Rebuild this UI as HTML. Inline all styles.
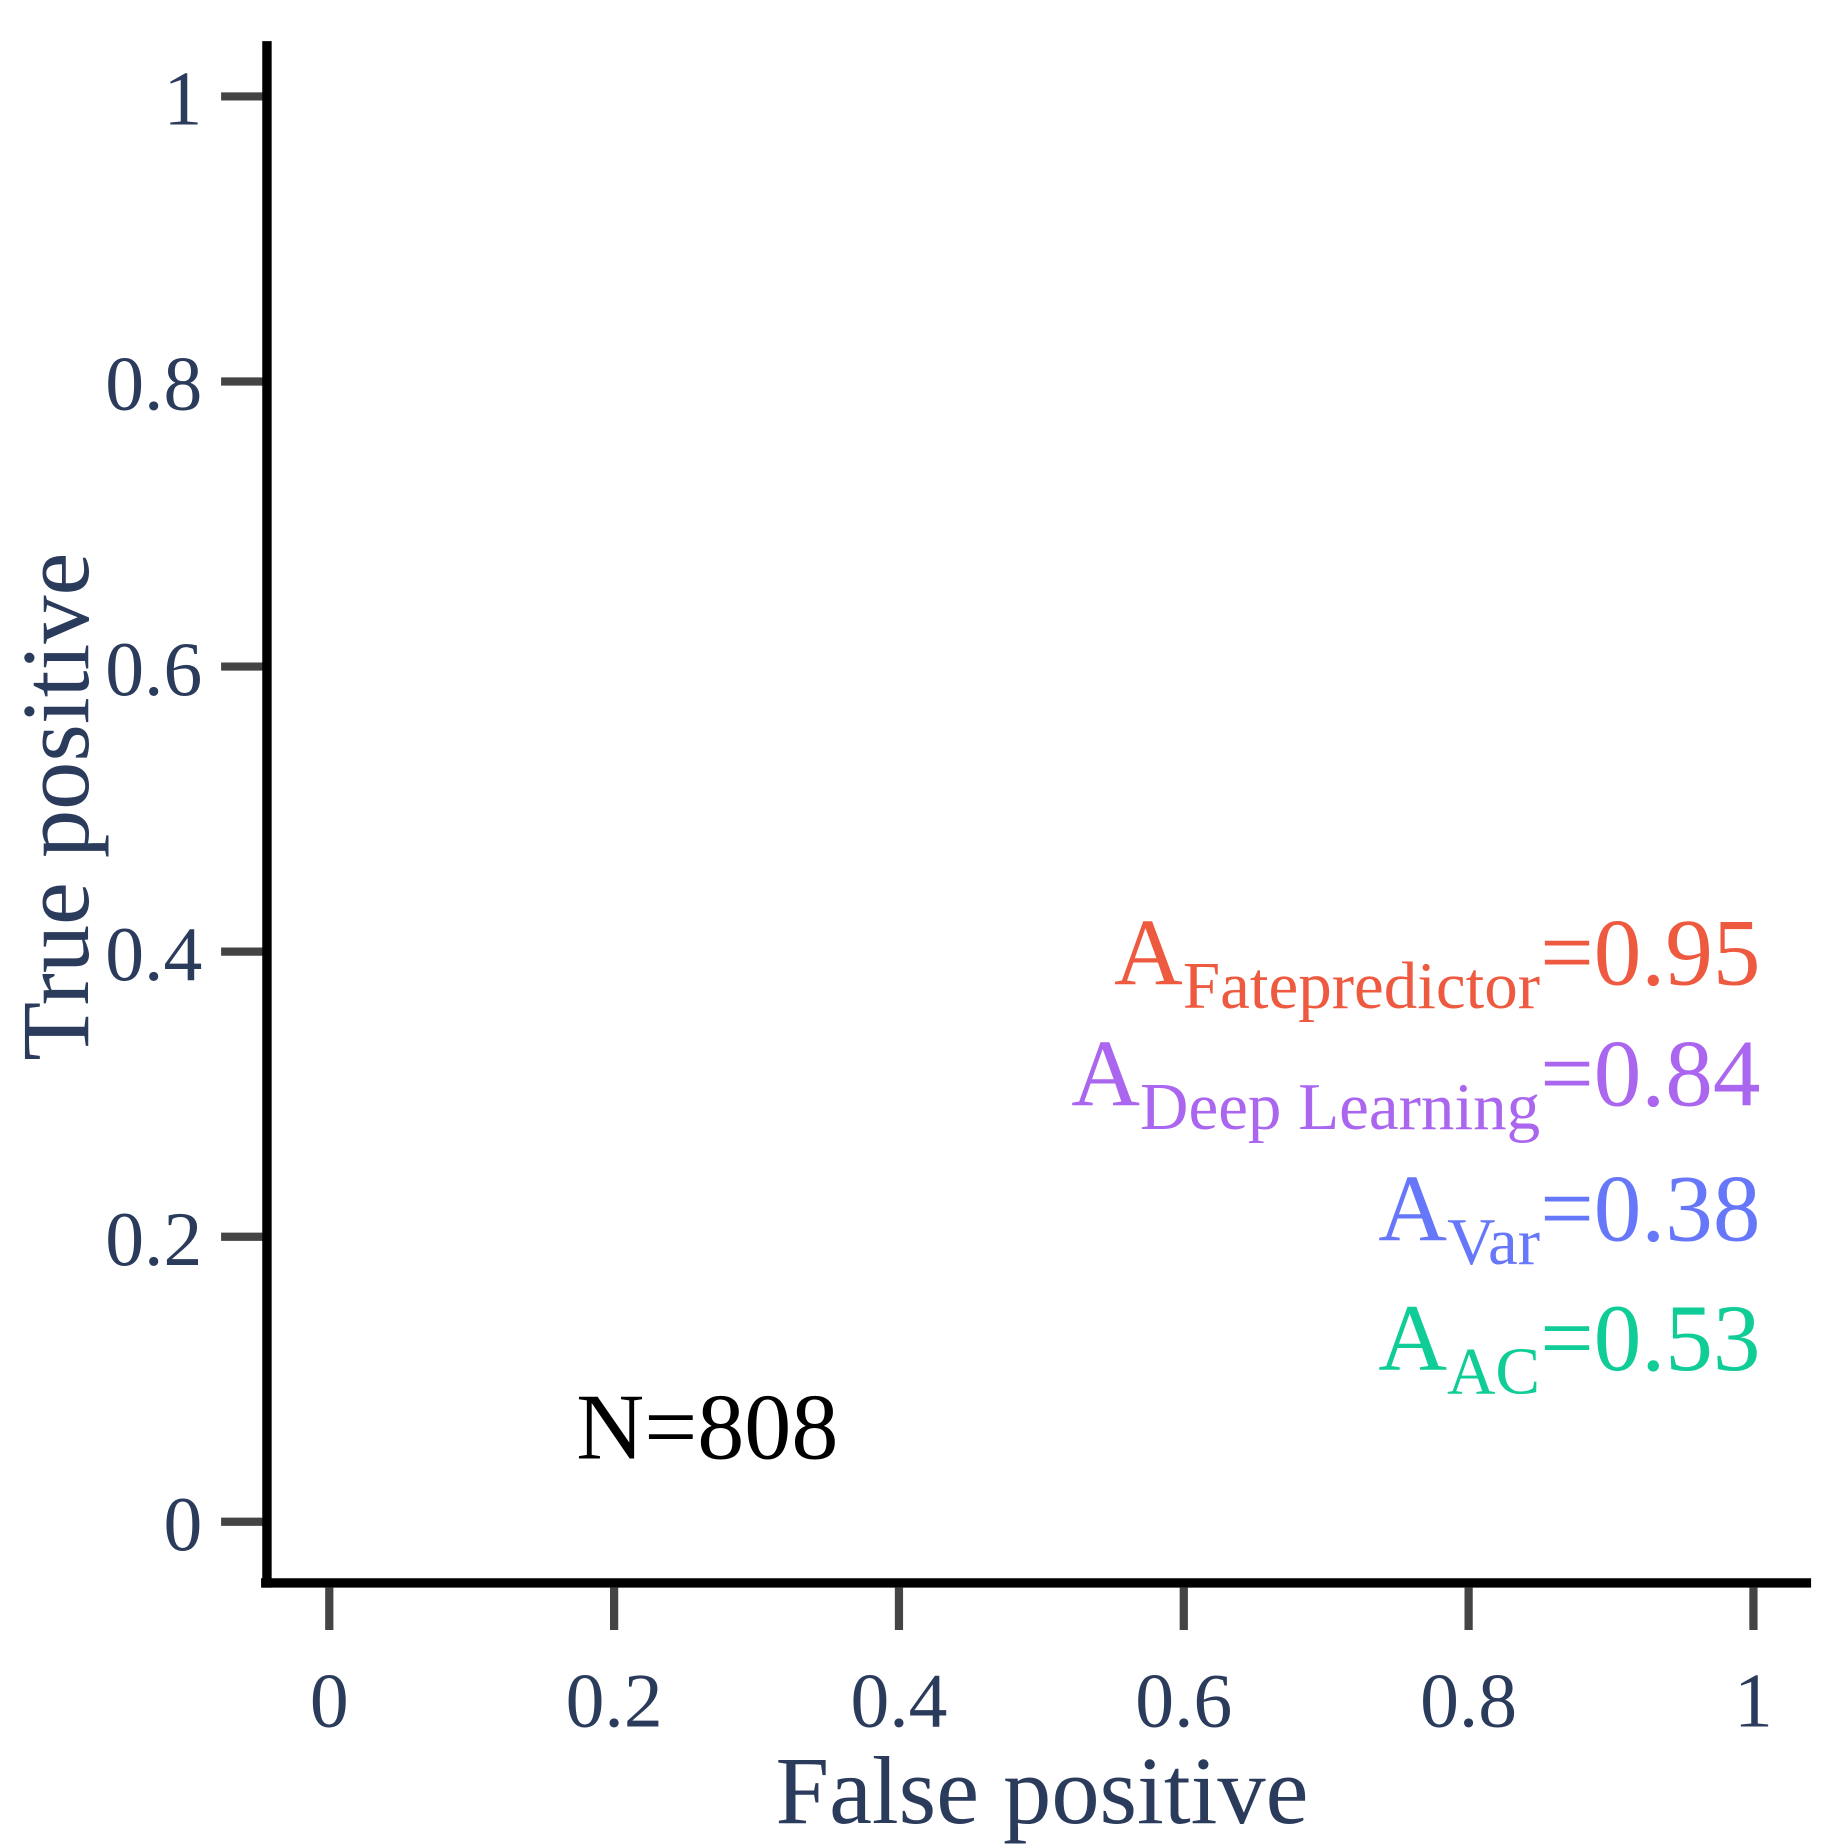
<!DOCTYPE html>
<html><head><meta charset="utf-8"><style>
html,body{margin:0;padding:0;background:#fff;}
svg{display:block;}
text{font-family:"Liberation Serif",serif;}
</style></head><body>
<svg id="chart" width="1844" height="1844" viewBox="0 0 1568 1568" xmlns="http://www.w3.org/2000/svg">
<g id="axes"></g>
<text x="886" y="1550" font-size="82" fill="#2b3b5c" text-anchor="middle">False positive</text>
<text transform="translate(75,686) rotate(-90)" font-size="82" fill="#2b3b5c" text-anchor="middle">True positive</text>
<text x="490" y="1240" font-size="80" fill="#000">N=808</text>
<g id="legend" text-anchor="end" font-size="81"></g>
</svg>
<script>
const xTicks = [0, 0.2, 0.4, 0.6, 0.8, 1];
const yTicks = [0, 0.2, 0.4, 0.6, 0.8, 1];
const tickLabels = ["0", "0.2", "0.4", "0.6", "0.8", "1"];
const modelNames = ["Fatepredictor", "Deep Learning", "Var", "AC"];
const aucValues = [0.95, 0.84, 0.38, 0.53];
const modelColors = ["#ee5a40", "#aa66ee", "#6677fa", "#10cc96"];

const NS = "http://www.w3.org/2000/svg";
const xS = v => 280 + v * (1491 - 280);
const yS = v => 1294 - v * (1294 - 82);
const axes = document.getElementById("axes");
function mk(tag, attrs, parent) {
  const e = document.createElementNS(NS, tag);
  for (const k in attrs) e.setAttribute(k, attrs[k]);
  parent.appendChild(e);
  return e;
}
xTicks.forEach((v, i) => {
  const t = mk("line", {x1: xS(v), x2: xS(v), y1: 1350, y2: 1386, stroke: "#444", "stroke-width": 7}, axes);
  
  
  const l = mk("text", {x: xS(v), y: 1468, "font-size": 66, fill: "#2b3b5c", "text-anchor": "middle"}, axes);
  l.textContent = tickLabels[i];
  
  
});
yTicks.forEach((v, i) => {
  const t = mk("line", {x1: 188, x2: 224, y1: yS(v), y2: yS(v), stroke: "#444", "stroke-width": 7}, axes);
  
  
  const l = mk("text", {x: 172, y: yS(v) + 24, "font-size": 66, fill: "#2b3b5c", "text-anchor": "end"}, axes);
  l.textContent = tickLabels[i];
  
  
});
const ya = mk("line", {x1: 227, x2: 227, y1: 35, y2: 1350, stroke: "#000", "stroke-width": 8}, axes);


const xa = mk("line", {x1: 222, x2: 1540, y1: 1346, y2: 1346, stroke: "#000", "stroke-width": 8}, axes);



const legend = document.getElementById("legend");
const baselines = [837, 940, 1055, 1165];
modelNames.forEach((n, i) => {
  const t = mk("text", {x: 1497, y: baselines[i], fill: modelColors[i]}, legend);
  
  
  const a = mk("tspan", {}, t); a.textContent = "A";
  const s = mk("tspan", {"font-size": 57, dy: 20}, t); s.textContent = n;
  const v = mk("tspan", {dy: -20}, t); v.textContent = "=" + aucValues[i].toFixed(2);
});
</script>
</body></html>
